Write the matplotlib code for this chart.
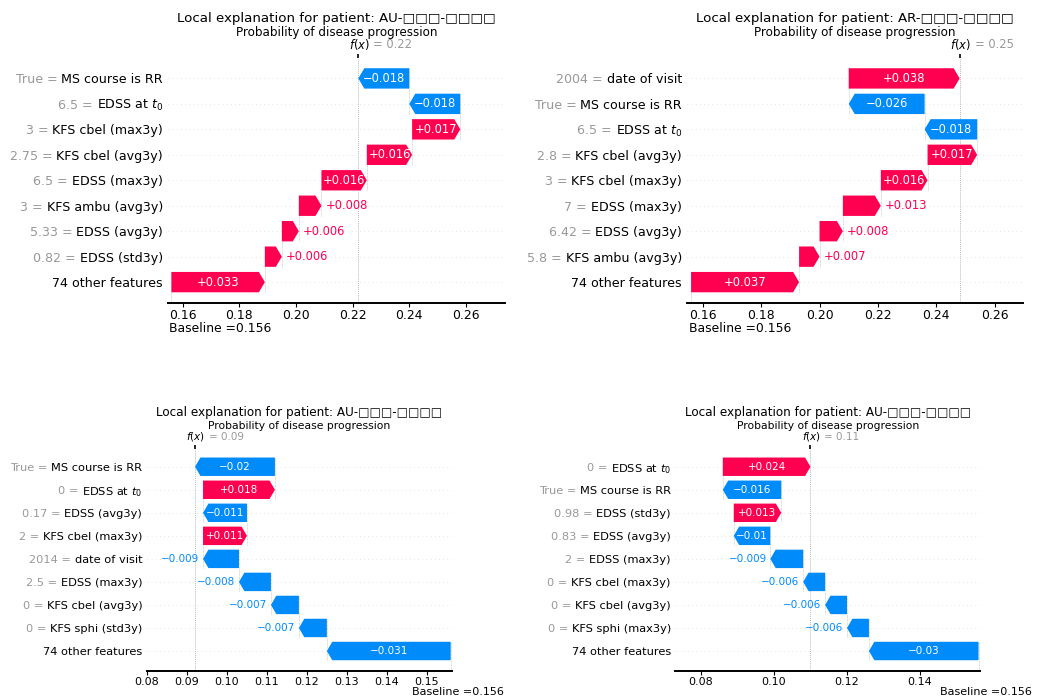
import matplotlib
matplotlib.use("Agg")
import matplotlib.pyplot as plt
import matplotlib.transforms as mtransforms
from matplotlib.patches import FancyArrow
from matplotlib.ticker import MultipleLocator, FormatStrFormatter

RED = "#ff0051"
BLUE = "#008bfb"
GRAY = "#999999"

base_value = 0.156
subtitle = "Probability of disease progression"

# ---- panel data (rows listed top to bottom) ----
p1_title = "Local explanation for patient: AU-□□□-□□□□"
p1_values = ["True", "6.5", "3", "2.75", "6.5", "3", "5.33", "0.82", ""]
p1_names = ["MS course is RR", "EDSS at $t_0$", "KFS cbel (max3y)", "KFS cbel (avg3y)",
            "EDSS (max3y)", "KFS ambu (avg3y)", "EDSS (avg3y)", "EDSS (std3y)",
            "74 other features"]
p1_shap = [-0.018, -0.018, 0.017, 0.016, 0.016, 0.008, 0.006, 0.006, 0.033]

p2_title = "Local explanation for patient: AR-□□□-□□□□"
p2_values = ["2004", "True", "6.5", "2.8", "3", "7", "6.42", "5.8", ""]
p2_names = ["date of visit", "MS course is RR", "EDSS at $t_0$", "KFS cbel (avg3y)",
            "KFS cbel (max3y)", "EDSS (max3y)", "EDSS (avg3y)", "KFS ambu (avg3y)",
            "74 other features"]
p2_shap = [0.038, -0.026, -0.018, 0.017, 0.016, 0.013, 0.008, 0.007, 0.037]

p3_title = "Local explanation for patient: AU-□□□-□□□□"
p3_values = ["True", "0", "0.17", "2", "2014", "2.5", "0", "0", ""]
p3_names = ["MS course is RR", "EDSS at $t_0$", "EDSS (avg3y)", "KFS cbel (max3y)",
            "date of visit", "EDSS (max3y)", "KFS cbel (avg3y)", "KFS sphi (std3y)",
            "74 other features"]
p3_shap = [-0.020, 0.018, -0.011, 0.011, -0.009, -0.008, -0.007, -0.007, -0.031]

p4_title = "Local explanation for patient: AU-□□□-□□□□"
p4_values = ["0", "True", "0.98", "0.83", "2", "0", "0", "0", ""]
p4_names = ["EDSS at $t_0$", "MS course is RR", "EDSS (std3y)", "EDSS (avg3y)",
            "EDSS (max3y)", "KFS cbel (max3y)", "KFS cbel (avg3y)", "KFS sphi (max3y)",
            "74 other features"]
p4_shap = [0.024, -0.016, 0.013, -0.010, -0.009, -0.006, -0.006, -0.006, -0.030]

# ---- layout ----
W, H = 1037, 698
fig = plt.figure(figsize=(W / 100, H / 100), dpi=100)
renderer = fig.canvas.get_renderer()


def fmt(v):
    s = f"{v:+.3f}".rstrip("0")
    return s.replace("-", "\u2212")


def shift(dx, dy):
    # offset in pixels (dpi = 100)
    return mtransforms.ScaledTranslation(dx / 100, dy / 100, fig.dpi_scale_trans)


def waterfall(rect, title, values, names, shap, xlim, ylim, step, s, fx_dy, sub_dy,
              title_dy, base_top):
    ax = fig.add_axes(rect)
    n = len(shap)
    ax.set_xlim(xlim)
    ax.set_ylim(ylim)
    px_unit = rect[2] * W / (xlim[1] - xlim[0])
    hl = 6 * s / px_unit
    lab_fs = 9.1 * s

    # cumulative positions starting from the baseline (bottom row)
    starts = [0.0] * n
    cur = base_value
    for i in range(n - 1, -1, -1):
        starts[i] = cur
        cur += shap[i]
    fx = cur

    for i in range(n):
        row = n - 1 - i
        ax.axhline(row, color="#cccccc", lw=0.5, dashes=(1, 5), zorder=-1)
        v = shap[i]
        st = starts[i]
        col = RED if v > 0 else BLUE
        arr = FancyArrow(st, row, v, 0, width=0.8, head_width=0.8,
                         head_length=min(hl, abs(v)), length_includes_head=True,
                         color=col, lw=0)
        ax.add_patch(arr)
        if i < n - 1:
            ax.plot([st, st], [row - 1 - 0.4, row + 0.4], color="#bbbbbb",
                    lw=0.5, dashes=(1, 1), zorder=-1)
        txt = ax.text(st + v / 2, row, fmt(v), ha="center", va="center",
                      color="white", fontsize=8.3 * s)
        tb = txt.get_window_extent(renderer=renderer)
        if tb.width > abs(v) * px_unit:
            txt.remove()
            end = st + v
            off = 4 * s / px_unit
            if v > 0:
                ax.text(end + off, row, fmt(v), ha="left", va="center",
                        color=RED, fontsize=8.3 * s)
            else:
                ax.text(end - off, row, fmt(v), ha="right", va="center",
                        color=BLUE, fontsize=8.3 * s)

        # feature labels: gray "value =" then the name in black
        ytr = ax.get_yaxis_transform()
        nt = ax.text(0, row, names[i], transform=ytr + shift(-5 * s, 0), ha="right",
                     va="center_baseline", color="black", fontsize=lab_fs)
        if values[i]:
            w = nt.get_window_extent(renderer=renderer).width
            gap = 0.318 * lab_fs * 100 / 72
            ax.text(0, row, values[i] + " =", transform=ytr + shift(-5 * s - w - gap, 0),
                    ha="right", va="center_baseline", color=GRAY, fontsize=lab_fs)

    ax.plot([base_value, base_value], [ylim[0], 0.4], color="#bbbbbb", lw=0.5,
            dashes=(1, 1), zorder=-1)
    ax.axvline(fx, color="#bbbbbb", lw=0.7, dashes=(1, 1), zorder=-1)

    ax.set_yticks([])
    for sp in ["left", "right", "top"]:
        ax.spines[sp].set_visible(False)
    ax.spines["bottom"].set_linewidth(1.4)
    ax.xaxis.set_major_locator(MultipleLocator(step))
    ax.xaxis.set_major_formatter(FormatStrFormatter("%.2f"))
    ax.tick_params(axis="x", length=3, width=0.8, pad=1.2, labelsize=8.9 * s)

    # f(x) tick on top
    ax3 = ax.twiny()
    ax3.set_xlim(xlim)
    ax3.set_xticks([fx])
    ax3.set_xticklabels([""])
    ax3.tick_params(axis="x", length=3, width=1.2)
    for sp in ax3.spines.values():
        sp.set_visible(False)

    blend = mtransforms.blended_transform_factory(ax.transData, ax.transAxes)
    ax.text(fx, 1, "$f(x)$", ha="right", va="center", fontsize=8.3 * s,
            transform=blend + shift(11.5 * s, fx_dy))
    ax.text(fx, 1, f"= {fx:.2f}", ha="left", va="center", fontsize=8.3 * s,
            color=GRAY, transform=blend + shift(15 * s, fx_dy))

    ax.text(0.5, 1, subtitle, ha="center", va="center", fontsize=8.6 * s,
            transform=ax.transAxes + shift(0, sub_dy))
    ax.text(0.5, 1, title, ha="center", va="center", fontsize=9.6 * s,
            transform=ax.transAxes + shift(0, title_dy))

    if base_top:
        ax.text(base_value, 0, "Baseline =0.156", ha="left", va="center",
                fontsize=8.9 * s, transform=blend + shift(-2, -25.5))
    else:
        ax.text(base_value, 0, "Baseline =0.156", ha="center", va="center",
                fontsize=8.9 * s, transform=blend + shift(7, -21.5))
    return ax


waterfall([168 / W, 1 - 303 / H, 337 / W, 244.7 / H], p1_title, p1_values, p1_names,
          p1_shap, (0.1548, 0.2738), (-0.82, 8.79), 0.02, 1.0, 13.3, 25.6, 40, True)
waterfall([687 / W, 1 - 303 / H, 336 / W, 244.7 / H], p2_title, p2_values, p2_names,
          p2_shap, (0.1546, 0.2697), (-0.82, 8.79), 0.02, 1.0, 13.3, 25.6, 40, True)
waterfall([146.7 / W, 1 - 670.7 / H, 305.6 / W, 221.7 / H], p3_title, p3_values,
          p3_names, p3_shap, (0.0799, 0.1564), (-0.855, 8.77), 0.01, 0.9, 12.3, 23.3,
          36.3, False)
waterfall([675.3 / W, 1 - 670.7 / H, 304.7 / W, 221.7 / H], p4_title, p4_values,
          p4_names, p4_shap, (0.0730, 0.1564), (-0.855, 8.77), 0.02, 0.9, 12.3, 23.3,
          36.3, False)

fig.savefig("out.png", dpi=100)
